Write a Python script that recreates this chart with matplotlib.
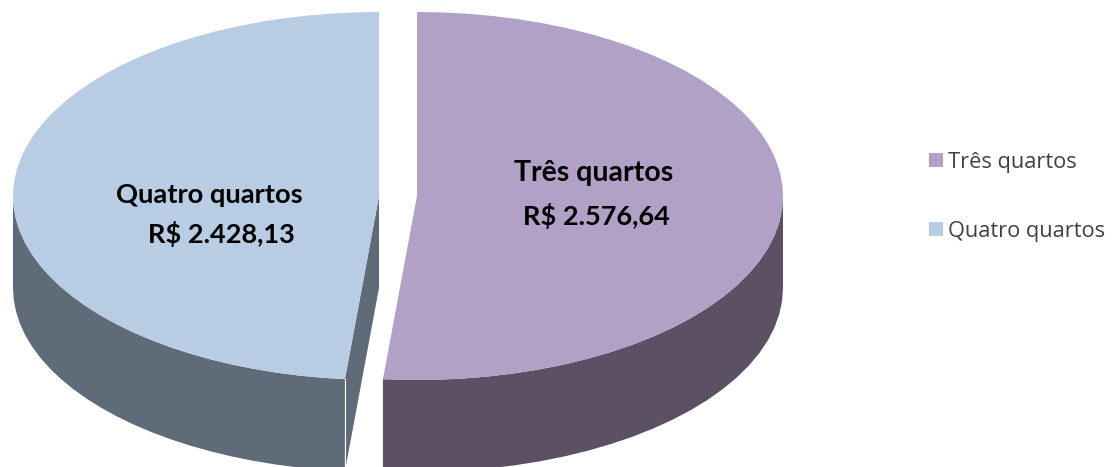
import numpy as np
import matplotlib.pyplot as plt
from matplotlib.lines import Line2D

plt.rcParams['font.family'] = ['Lato', 'DejaVu Sans']

# dados
categories = ['Três quartos', 'Quatro quartos']
values = [2576.64, 2428.13]
value_labels = ['R$ 2.576,64', 'R$ 2.428,13']
top_colors = ['#b2a1c7', '#b8cce4']
wall_colors = ['#5c5064', '#5f6b78']

W, H = 1113, 467
cy, rx, ry, depth = 196, 366, 184, 92
centers = [417, 379]


def arc(cx, a0, a1, n=40):
    # angulos em graus, sentido horario a partir do topo
    t = np.radians(np.linspace(a0, a1, n))
    return cx + rx * np.sin(t), cy - ry * np.cos(t)


fig = plt.figure(figsize=(W / 100, H / 100), dpi=100)
ax = fig.add_axes([0, 0, 1, 1])
ax.set_xlim(0, W)
ax.set_ylim(H, 0)
ax.axis('off')

split = 360 * values[0] / sum(values)

# paredes laterais
x, y = arc(centers[0], 90, split, n=24)
ax.fill(np.r_[x, x[::-1]], np.r_[y, y[::-1] + depth], color=wall_colors[0], lw=0)
x, y = arc(centers[1], split, 270, n=24)
ax.fill(np.r_[x, x[::-1]], np.r_[y, y[::-1] + depth], color=wall_colors[1], lw=0)

# face do corte da fatia esquerda
ex, ey = arc(centers[1], split, split, n=1)
ax.fill([centers[1], centers[1], ex[0], ex[0]],
        [cy, cy + depth, ey[0] + depth, ey[0]], color=wall_colors[1], lw=0)
ax.plot([ex[0], ex[0]], [ey[0], ey[0] + depth], color='white', lw=0.8)

# faces de cima
x, y = arc(centers[0], 0, split, n=48)
ax.fill(np.r_[centers[0], x], np.r_[cy, y], color=top_colors[0], lw=0)
x, y = arc(centers[1], split, 360, n=48)
ax.fill(np.r_[centers[1], x], np.r_[cy, y], color=top_colors[1], lw=0)

# rotulos
ax.text(594, 173, categories[0], ha='center', va='center', fontsize=20.5, fontweight='bold', color='black')
ax.text(596, 216, value_labels[0], ha='center', va='center', fontsize=19.5, fontweight='bold', color='black')
ax.text(209, 195, categories[1], ha='center', va='center', fontsize=19.7, fontweight='bold', color='black')
ax.text(221, 234, value_labels[1], ha='center', va='center', fontsize=19.5, fontweight='bold', color='black')

# legenda
handles = [Line2D([], [], marker='s', ls='none', ms=10, mfc=c, mec=c, mew=0) for c in top_colors]
ax.legend(handles, categories, loc='center left', bbox_to_anchor=(926 / W, 1 - 197 / H),
          frameon=False, prop={'family': 'Open Sans', 'size': 15.7}, labelcolor='#404040', labelspacing=2.2,
          handlelength=0.9, handletextpad=0.12, borderpad=0, borderaxespad=0)

fig.savefig('out.png', dpi=100)
